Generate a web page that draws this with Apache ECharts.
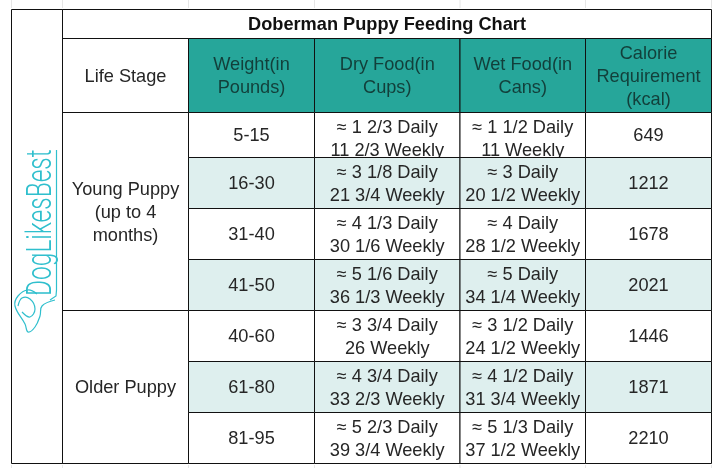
<!DOCTYPE html>
<html>
<head>
<meta charset="utf-8">
<style>html,body{margin:0;background:#fff}#chart{width:717px;height:468px}</style>
<script src="https://cdn.jsdelivr.net/npm/echarts@6/dist/echarts.min.js"></script>
</head>
<body>
<div id="chart"></div>
<script>
var title = 'Doberman Puppy Feeding Chart';
var headers = ['Life Stage', 'Weight(in\nPounds)', 'Dry Food(in\nCups)', 'Wet Food(in\nCans)', 'Calorie\nRequirement\n(kcal)'];
var stages = ['Young Puppy\n(up to 4\nmonths)', 'Older Puppy'];
var stageRows = [[0, 4], [4, 7]];
var weights = ['5-15', '16-30', '31-40', '41-50', '40-60', '61-80', '81-95'];
var dryFood = [
  '≈ 1 2/3 Daily\n11 2/3 Weekly', '≈ 3 1/8 Daily\n21 3/4 Weekly', '≈ 4 1/3 Daily\n30 1/6 Weekly',
  '≈ 5 1/6 Daily\n36 1/3 Weekly', '≈ 3 3/4 Daily\n26 Weekly', '≈ 4 3/4 Daily\n33 2/3 Weekly',
  '≈ 5 2/3 Daily\n39 3/4 Weekly'
];
var wetFood = [
  '≈ 1 1/2 Daily\n11 Weekly', '≈ 3 Daily\n20 1/2 Weekly', '≈ 4 Daily\n28 1/2 Weekly',
  '≈ 5 Daily\n34 1/4 Weekly', '≈ 3 1/2 Daily\n24 1/2 Weekly', '≈ 4 1/2 Daily\n31 3/4 Weekly',
  '≈ 5 1/3 Daily\n37 1/2 Weekly'
];
var calories = [649, 1212, 1678, 2021, 1446, 1871, 2210];

// table layout, in axis units
var colEdges = [62.5, 188.5, 314.5, 460, 585.5, 711.5];
var rowEdges = [112.5, 157.5, 208.5, 259.5, 310.5, 361.5, 412.5, 463.5];
var headTop = 38.5, titleTop = 9.5, leftEdge = 11.5;

var FONT = '"Liberation Sans", Arial, sans-serif';
var TEAL = '#26a69a', PALE = '#deefee', INK = '#262626', HEAD_INK = '#123f3a', LINE = '#111', LOGO = '#2fbfcd';

// [x0, x1, y0, y1, text, fill, color, anchor]
var cells = [];
cells.push([colEdges[0], colEdges[5], titleTop, headTop, title, '#fff', '#111', 'title']);
headers.forEach(function (h, i) {
  cells.push([colEdges[i], colEdges[i + 1], headTop, rowEdges[0], h, i ? TEAL : '#fff', i ? HEAD_INK : INK, 'middle']);
});
stages.forEach(function (s, i) {
  cells.push([colEdges[0], colEdges[1], rowEdges[stageRows[i][0]], rowEdges[stageRows[i][1]], s, '#fff', INK, 'middle']);
});
weights.forEach(function (w, r) {
  var fill = r % 2 ? PALE : '#fff';
  [w, dryFood[r], wetFood[r], String(calories[r])].forEach(function (t, c) {
    cells.push([colEdges[c + 1], colEdges[c + 2], rowEdges[r], rowEdges[r + 1], t, fill, INK, t.indexOf('\n') > 0 ? 'top' : 'middle']);
  });
});

function renderCell(params, api) {
  var d = cells[params.dataIndex];
  var a = api.coord([d[0], d[2]]), b = api.coord([d[1], d[3]]);
  var w = b[0] - a[0], h = b[1] - a[1];
  var isTop = d[7] === 'top';
  var offset = isTop ? 3.5 : h / 2 + 1;
  return {
    type: 'group',
    children: [
      { type: 'rect', shape: { x: a[0], y: a[1], width: w, height: h }, style: { fill: d[5] } },
      {
        type: 'text',
        x: a[0] + w / 2,
        y: a[1] + offset,
        clipPath: { type: 'rect', shape: { x: -w / 2, y: -offset, width: w, height: h } },
        style: {
          text: d[4], fill: d[6], align: 'center',
          verticalAlign: isTop ? 'top' : 'middle',
          font: (d[7] === 'title' ? 'bold 18.2px ' : '18.2px ') + FONT,
          lineHeight: 23
        }
      },
      {
        type: 'rect',
        shape: { x: a[0], y: a[1], width: w, height: h },
        style: { fill: 'none', stroke: LINE, lineWidth: 1 }
      }
    ]
  };
}

// faint sheet gridlines above and below the table
var sheetLines = [];
[leftEdge].concat(colEdges).forEach(function (x) {
  sheetLines.push({ type: 'line', silent: true, shape: { x1: x, y1: 0, x2: x, y2: 8 }, style: { stroke: '#e6e6e6', lineWidth: 1 } });
  sheetLines.push({ type: 'line', silent: true, shape: { x1: x, y1: 465, x2: x, y2: 468 }, style: { stroke: '#e6e6e6', lineWidth: 1 } });
});

function logoLine(points, smooth) {
  return { type: 'polyline', z: 6, silent: true, shape: { points: points, smooth: smooth }, style: { fill: 'none', stroke: LOGO, lineWidth: 1.2 } };
}

var myChart = echarts.init(document.getElementById('chart'));
myChart.setOption({
  animation: false,
  backgroundColor: '#fff',
  grid: { left: 0, right: 0, top: 0, bottom: 0 },
  xAxis: { type: 'value', min: 0, max: 717, show: false },
  yAxis: { type: 'value', min: 0, max: 468, inverse: true, show: false },
  graphic: sheetLines.concat([
    { type: 'rect', z: 5, silent: true, shape: { x: leftEdge, y: titleTop, width: colEdges[0] - leftEdge, height: rowEdges[7] - titleTop }, style: { fill: 'none', stroke: LINE, lineWidth: 1 } },
    // logo
    {
      type: 'text', z: 6, silent: true, x: 42, y: 296, rotation: Math.PI / 2, scaleX: 0.7,
      style: { text: 'DogLikesBest', fill: LOGO, font: '300 35px Roboto, sans-serif', align: 'left', verticalAlign: 'middle' }
    },
    logoLine([[56.5, 150], [56.5, 290], [56, 296], [50, 300]], 0),
    logoLine([[55, 300], [42, 306], [40, 316], [35, 327], [28, 332], [25, 324], [15, 306], [18, 296], [28, 290], [37, 294]], 0.4),
    logoLine([[18, 306], [22, 298], [30, 299], [35, 309], [30, 317], [22, 312]], 0.4)
  ]),
  series: [{
    type: 'custom',
    coordinateSystem: 'cartesian2d',
    clip: false,
    silent: true,
    renderItem: renderCell,
    data: cells.map(function (d, i) { return [d[0], d[2], i]; })
  }]
});
</script>
</body>
</html>
